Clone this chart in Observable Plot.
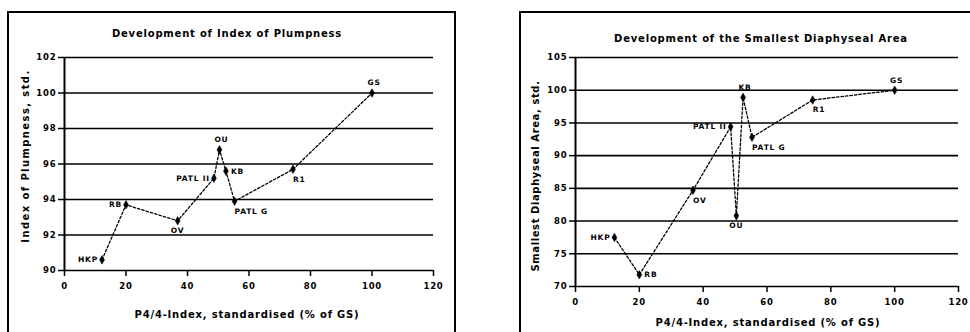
<!DOCTYPE html>
<html><head><meta charset="utf-8">
<script src="https://cdn.jsdelivr.net/npm/d3@7"></script>
<script src="https://cdn.jsdelivr.net/npm/@observablehq/plot@0.6"></script>
<style>
body{margin:0;background:#fff;width:970px;height:332px;overflow:hidden;position:relative;font-family:"DejaVu Sans",sans-serif;}
.box{position:absolute;border:2px solid #000;box-sizing:border-box;}
.t{position:absolute;white-space:nowrap;color:#000;font-weight:bold;transform:translate(-50%,-50%);}
.rot{transform:translate(-50%,-50%) rotate(-90deg);}
.panel{position:absolute;top:0;}
.panel svg text{letter-spacing:0.8px;}
</style></head><body>
<div id="leftPanel" class="panel" style="left:0px"></div>
<div id="rightPanel" class="panel" style="left:520px"></div>
<div class="box" style="left:7px;top:11px;width:449px;height:340px"></div>
<div class="box" style="left:519px;top:11px;width:470px;height:340px"></div>
<div class="t" id="t1" style="left:227px;top:33px;font-size:10px;letter-spacing:0.8px"></div>
<div class="t" id="t2" style="left:761px;top:38px;font-size:10px;letter-spacing:0.8px"></div>
<div class="t" id="xl1" style="left:247px;top:314px;font-size:10px;letter-spacing:0.8px"></div>
<div class="t" id="xl2" style="left:768px;top:322px;font-size:10px;letter-spacing:0.8px"></div>
<div class="t rot" id="yl1" style="left:25px;top:156px;font-size:10px;letter-spacing:1.4px"></div>
<div class="t rot" id="yl2" style="left:535px;top:176px;font-size:10px;letter-spacing:0.6px"></div>
<script>
// ---- data ----
const sites = ["HKP", "RB", "OV", "PATL II", "OU", "KB", "PATL G", "R1", "GS"];
const p44Index = [12.2, 20, 36.8, 48.6, 50.4, 52.5, 55.3, 74.3, 100];
const plumpness = [90.6, 93.7, 92.8, 95.2, 96.8, 95.6, 93.9, 95.7, 100];
const diaphysealArea = [77.5, 71.8, 84.7, 94.4, 80.8, 98.9, 92.8, 98.5, 100];
const xTicks = [0, 20, 40, 60, 80, 100, 120];
const leftYTicks = [90, 92, 94, 96, 98, 100, 102];
const rightYTicks = [70, 75, 80, 85, 90, 95, 100, 105];

const titles = {
  left: "Development of Index of Plumpness",
  right: "Development of the Smallest Diaphyseal Area",
  xLeft: "P4/4-Index, standardised (% of GS)",
  xRight: "P4/4-Index, standardised (% of GS)",
  yLeft: "Index of Plumpness, std.",
  yRight: "Smallest Diaphyseal Area, std."
};
document.getElementById("t1").textContent = titles.left;
document.getElementById("t2").textContent = titles.right;
document.getElementById("xl1").textContent = titles.xLeft;
document.getElementById("xl2").textContent = titles.xRight;
document.getElementById("yl1").textContent = titles.yLeft;
document.getElementById("yl2").textContent = titles.yRight;

// ---- label placement (style) ----
const placeStyle = {
  left: {textAnchor: "end", dx: -4, dy: 0},
  right: {textAnchor: "start", dx: 5, dy: 0},
  above: {textAnchor: "middle", dx: 2, dy: -10},
  below: {textAnchor: "middle", dx: 0, dy: 10},
  belowright: {textAnchor: "start", dx: 0, dy: 10}
};
const leftPlace = {HKP: "left", RB: "left", OV: "below", "PATL II": "left", OU: "above", KB: "right", "PATL G": "belowright", R1: "belowright", GS: "above"};
const rightPlace = {HKP: "left", RB: "right", OV: "belowright", "PATL II": "left", OU: "below", KB: "above", "PATL G": "belowright", R1: "belowright", GS: "above"};

function makeChart(values, yTicks, place, opts) {
  const data = sites.map((s, i) => ({site: s, x: p44Index[i], y: values[i]}));
  const textMarks = Object.entries(placeStyle).map(([k, st]) =>
    Plot.text(data.filter(d => place[d.site] === k), {
      x: "x", y: "y", text: "site", fontSize: 7.5, fontWeight: "bold", fill: "#000", ...st
    })
  );
  return Plot.plot({
    width: opts.width, height: 332,
    marginLeft: opts.ml, marginRight: opts.mr, marginTop: 57, marginBottom: opts.mb,
    style: {background: "transparent", overflow: "visible", fontFamily: "DejaVu Sans"},
    x: {domain: [0, 120]},
    y: {domain: [yTicks[0], yTicks[yTicks.length - 1]]},
    marks: [
      Plot.ruleY(yTicks, {stroke: "#000", strokeWidth: 1.6, x1: 0, x2: 120}),
      Plot.ruleX([0], {stroke: "#000", strokeWidth: 2}),
      Plot.axisY({ticks: yTicks, tickSize: 6, tickPadding: 2, fontSize: 8.5, fontWeight: "bold", label: null, stroke: "#000", strokeWidth: 1.5}),
      Plot.axisX({ticks: xTicks, tickSize: 6, tickPadding: 6, fontSize: 8.5, fontWeight: "bold", label: null, stroke: "#000", strokeWidth: 1.5}),
      Plot.line(data, {x: "x", y: "y", stroke: "#000", strokeWidth: 1.3, strokeDasharray: "2.5,2"}),
      Plot.dot(data, {x: "x", y: "y", symbol: "diamond", r: 2.6, fill: "#000", stroke: "#000", strokeWidth: 0.5}),
      ...textMarks
    ]
  });
}

document.getElementById("leftPanel").appendChild(
  makeChart(plumpness, leftYTicks, leftPlace, {width: 460, ml: 64, mr: 27, mb: 62}));
document.getElementById("rightPanel").appendChild(
  makeChart(diaphysealArea, rightYTicks, rightPlace, {width: 450, ml: 55, mr: 12, mb: 46}));
</script>
</body></html>
